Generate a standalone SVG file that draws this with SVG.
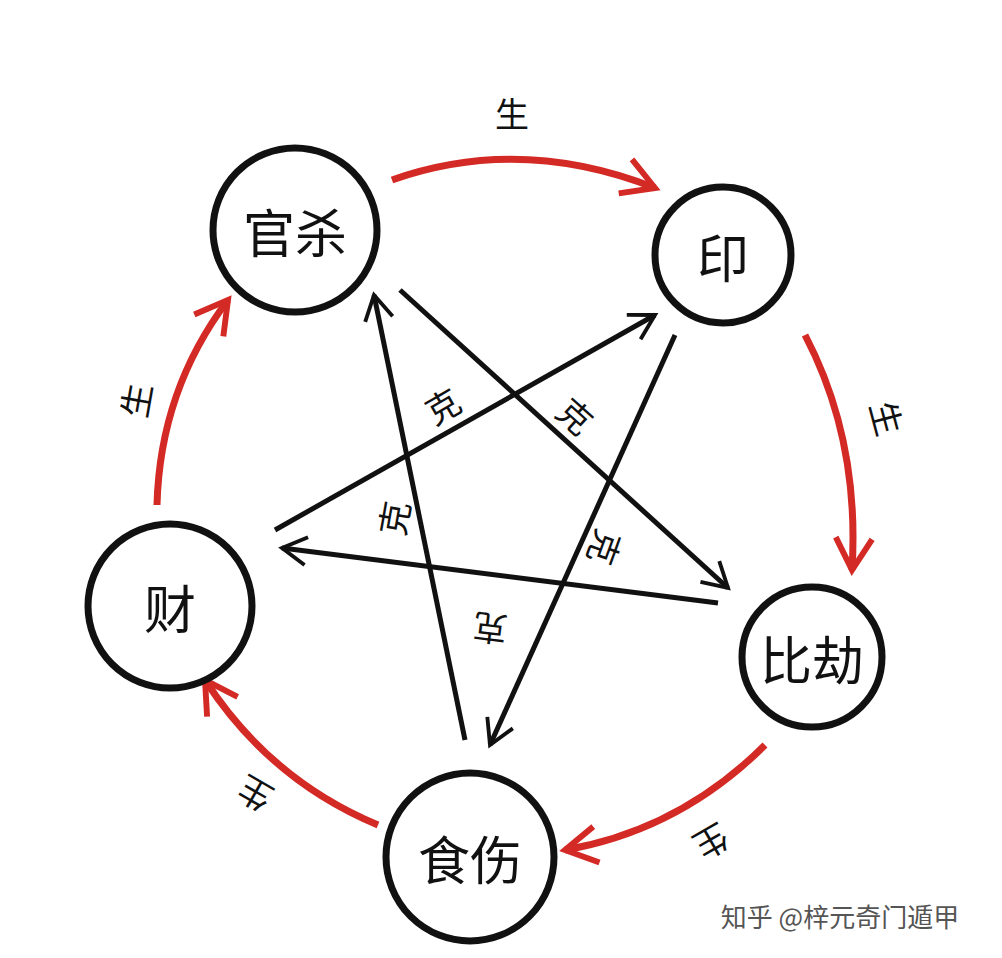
<svg xmlns="http://www.w3.org/2000/svg" width="1002" height="958" viewBox="0 0 1002 958">
<style>
.n{fill:#fff;stroke:#111;stroke-width:7}
.t{font-family:"Noto Sans CJK SC",sans-serif;fill:#111;text-anchor:middle;dominant-baseline:central}
.big{font-size:52px}
.s{font-size:34px}
.r{fill:none;stroke:#d42a25;stroke-width:7}
.b{fill:none;stroke:#111;stroke-width:5}
</style>
<defs>
<marker id="ra" viewBox="0 0 10 10" refX="8" refY="5" markerWidth="6.5" markerHeight="6.5" orient="auto" markerUnits="strokeWidth"><path d="M1,1 L8,5 L1,9" fill="none" stroke="#d42a25" stroke-width="1.3"/></marker>
<marker id="ba" viewBox="0 0 10 10" refX="8" refY="5" markerWidth="7" markerHeight="7" orient="auto" markerUnits="strokeWidth"><path d="M1,1 L8,5 L1,9" fill="none" stroke="#111" stroke-width="1.1"/></marker>
</defs>
<rect width="1002" height="958" fill="#fff"/>
<g id="connectors">
<path class="r" marker-end="url(#ra)" d="M392,180 Q520,135 655,188"/>
<path class="r" marker-end="url(#ra)" d="M805,335 Q860,440 852,570"/>
<path class="r" marker-end="url(#ra)" d="M765,745 Q680,830 565,850"/>
<path class="r" marker-end="url(#ra)" d="M378,825 Q270,780 205,680"/>
<path class="r" marker-end="url(#ra)" d="M157,505 Q160,390 228,300"/>
<line class="b" marker-end="url(#ba)" x1="400" y1="290" x2="728" y2="588"/>
<line class="b" marker-end="url(#ba)" x1="675" y1="335" x2="490" y2="745"/>
<line class="b" marker-end="url(#ba)" x1="718" y1="603" x2="282" y2="548"/>
<line class="b" marker-end="url(#ba)" x1="465" y1="740" x2="374" y2="295"/>
<line class="b" marker-end="url(#ba)" x1="275" y1="530" x2="655" y2="315"/>
<text class="t s" x="512" y="112">生</text>
<text class="t s" transform="translate(888,418) rotate(75)">生</text>
<text class="t s" transform="translate(712,843) rotate(150)">生</text>
<text class="t s" transform="translate(254,795) rotate(-150)">生</text>
<text class="t s" transform="translate(135,400) rotate(-80)">生</text>
<text class="t s" transform="translate(442,405) rotate(-30)">克</text>
<text class="t s" transform="translate(576,415) rotate(42)">克</text>
<text class="t s" transform="translate(393,518) rotate(-80)">克</text>
<text class="t s" transform="translate(606,548) rotate(110)">克</text>
<text class="t s" transform="translate(490,630) rotate(187)">克</text>
</g>
<g id="guansha"><circle class="n" cx="295" cy="230" r="82"/><text class="t big" x="295" y="230">官杀</text></g>
<g id="yin"><circle class="n" cx="723" cy="255" r="68"/><text class="t big" x="723" y="255">印</text></g>
<g id="bijie"><circle class="n" cx="812" cy="657" r="70"/><text class="t big" x="812" y="657">比劫</text></g>
<g id="shishang"><circle class="n" cx="470" cy="857" r="84"/><text class="t big" x="470" y="857">食伤</text></g>
<g id="cai"><circle class="n" cx="170" cy="606" r="82"/><text class="t big" x="170" y="606">财</text></g>
<text class="t" x="840" y="915" style="font-size:26px;fill:#555">知乎 @梓元奇门遁甲</text>
</svg>
